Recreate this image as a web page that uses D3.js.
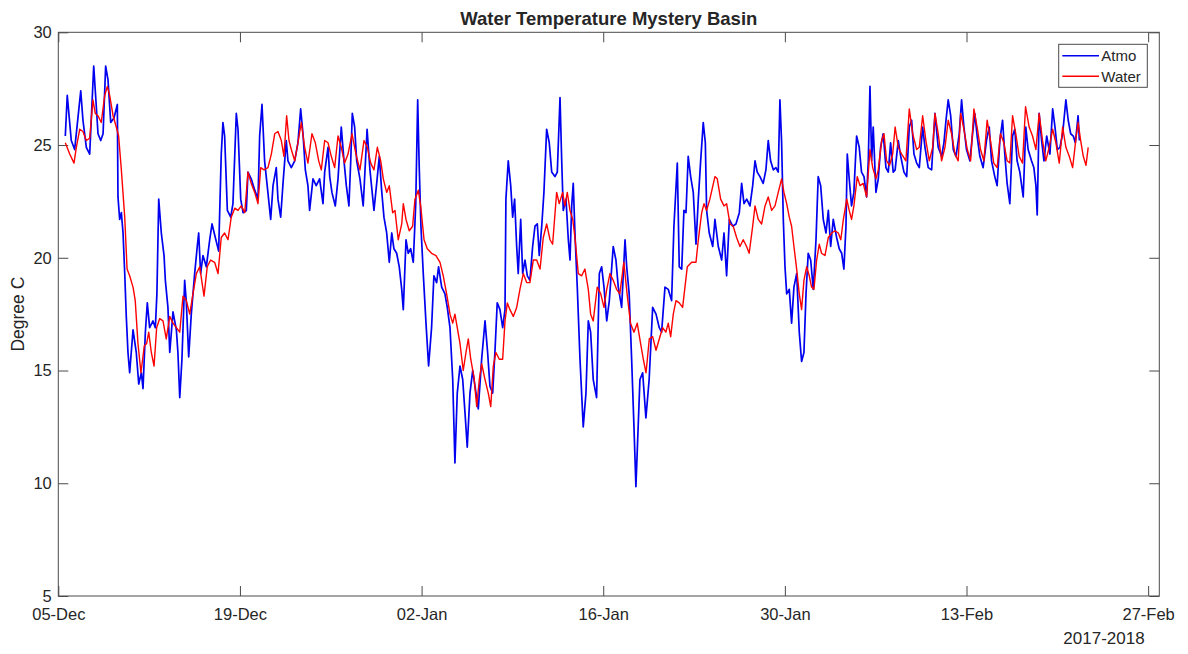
<!DOCTYPE html>
<html>
<head>
<meta charset="utf-8">
<script src="https://cdn.jsdelivr.net/npm/d3@7"></script>
<style>
	body { margin: 0; background: #fff; }
	text { font-family: "Liberation Sans", Arial, Helvetica, sans-serif; fill: #262626; }
</style>
</head>
<body>
<svg id="svg" width="1188" height="654"></svg>
<script>
// day offsets from 05-Dec-2017, temperature in degree C
const atmo = [
	[0.54,25.4],[0.69,27.2],[1.0,25.2],[1.26,24.8],[1.73,27.4],[1.9,26.1],[2.16,24.9],[2.42,24.6],
	[2.73,28.5],[2.93,26.7],[3.06,25.5],[3.27,25.2],[3.45,25.5],[3.65,28.5],[3.83,27.9],[4.04,26.0],
	[4.29,26.2],[4.55,26.8],[4.6,22.7],[4.73,21.7],[4.86,22.0],[4.99,21.1],[5.12,19.3],[5.24,17.4],
	[5.37,15.8],[5.5,14.9],[5.76,16.8],[6.01,15.8],[6.2,14.4],[6.4,14.9],[6.53,14.2],[6.71,16.7],
	[6.86,18.0],[7.04,16.9],[7.3,17.2],[7.48,16.9],[7.6,18.4],[7.74,22.6],[7.94,21.1],[8.15,20.1],
	[8.25,19.0],[8.45,17.8],[8.59,15.8],[8.84,17.6],[9.1,16.8],[9.22,15.8],[9.36,13.8],[9.53,15.5],
	[9.74,19.0],[9.87,18.0],[10.05,15.6],[10.25,17.5],[10.51,19.3],[10.71,20.5],[10.82,21.1],[10.97,19.3],
	[11.15,20.1],[11.41,19.6],[11.67,20.8],[11.85,21.5],[12.1,20.9],[12.36,20.3],[12.56,24.6],[12.69,26.0],
	[12.82,25.4],[13.03,22.1],[13.29,21.8],[13.46,22.4],[13.72,26.4],[13.85,25.7],[14.06,22.6],[14.24,22.0],
	[14.49,22.1],[14.62,23.8],[14.87,23.5],[15.14,23.0],[15.39,22.6],[15.52,25.4],[15.7,26.8],[15.9,24.3],
	[16.1,23.2],[16.37,21.7],[16.55,23.2],[16.8,24.0],[16.93,22.6],[17.14,21.8],[17.32,23.3],[17.57,25.2],
	[17.7,24.3],[17.96,24.0],[18.22,24.3],[18.47,25.1],[18.68,26.6],[18.86,25.5],[19.04,23.9],[19.24,23.2],
	[19.37,22.1],[19.63,23.5],[19.88,23.2],[20.14,23.5],[20.4,22.4],[20.53,23.8],[20.79,24.9],[20.92,23.6],
	[21.09,22.9],[21.35,22.3],[21.56,23.5],[21.81,25.8],[22.02,24.3],[22.2,23.2],[22.4,22.3],[22.54,24.3],
	[22.66,26.4],[22.84,25.8],[23.0,24.3],[23.25,23.5],[23.5,22.3],[23.8,25.7],[24.02,23.9],[24.33,22.1],
	[24.54,23.3],[24.74,24.5],[24.92,23.0],[25.1,21.8],[25.31,21.1],[25.51,19.8],[25.7,21.1],[25.87,20.4],
	[26.08,20.2],[26.28,19.6],[26.47,18.6],[26.59,17.7],[26.8,20.8],[26.97,20.2],[27.16,20.4],[27.36,19.8],
	[27.55,22.4],[27.7,27.0],[27.82,24.0],[27.95,21.4],[28.13,19.3],[28.34,17.1],[28.54,15.2],[28.77,16.9],
	[28.95,19.2],[29.16,18.9],[29.31,19.6],[29.55,18.7],[29.8,18.4],[29.98,17.8],[30.19,16.9],[30.4,14.6],
	[30.57,10.9],[30.75,14.0],[30.96,15.2],[31.17,14.6],[31.35,13.1],[31.52,11.6],[31.73,14.0],[31.94,15.0],
	[32.12,14.3],[32.37,13.3],[32.63,15.5],[32.89,17.2],[33.09,15.8],[33.27,14.3],[33.48,14.0],[33.66,15.9],
	[33.83,18.0],[34.04,17.7],[34.25,16.9],[34.43,17.7],[34.5,22.6],[34.68,24.3],[34.87,23.2],[35.02,21.8],
	[35.17,22.6],[35.33,20.5],[35.45,19.3],[35.64,21.7],[35.79,19.3],[35.97,19.9],[36.15,19.2],[36.35,19.0],
	[36.56,20.5],[36.74,21.4],[36.92,21.5],[37.07,20.1],[37.26,21.4],[37.43,22.9],[37.64,25.7],[37.84,25.1],
	[38.03,23.8],[38.28,23.6],[38.46,23.8],[38.67,27.1],[38.8,24.3],[38.92,22.1],[39.13,22.6],[39.31,20.8],
	[39.44,19.9],[39.57,22.3],[39.69,23.3],[39.82,21.1],[40.0,18.7],[40.21,15.5],[40.46,12.5],[40.67,14.0],
	[40.85,17.2],[41.03,16.7],[41.23,14.6],[41.49,13.8],[41.7,19.3],[41.88,19.6],[42.06,18.7],[42.27,17.2],
	[42.47,18.1],[42.77,20.5],[42.98,19.9],[43.16,18.7],[43.42,17.8],[43.68,20.8],[43.81,19.6],[44.0,18.4],
	[44.19,15.5],[44.37,12.5],[44.52,9.85],[44.83,14.6],[45.04,14.9],[45.29,12.9],[45.54,14.6],[45.81,17.8],
	[46.07,17.5],[46.32,16.9],[46.5,16.7],[46.76,18.7],[47.01,18.6],[47.27,18.1],[47.45,21.4],[47.71,24.2],
	[47.86,19.6],[48.05,19.5],[48.22,22.1],[48.38,22.0],[48.55,24.5],[48.74,23.6],[48.94,22.9],[49.15,20.6],
	[49.33,22.6],[49.51,24.3],[49.71,26.0],[49.87,25.1],[49.97,22.1],[50.17,21.1],[50.44,20.5],[50.61,21.7],
	[50.87,20.5],[51.13,19.9],[51.31,21.1],[51.51,19.2],[51.72,21.7],[51.98,21.4],[52.23,21.5],[52.49,22.0],
	[52.67,23.3],[52.85,22.4],[53.06,22.6],[53.31,22.3],[53.52,23.2],[53.7,24.3],[53.87,23.8],[54.08,23.6],
	[54.33,23.3],[54.54,23.9],[54.72,25.2],[54.9,24.3],[55.11,23.9],[55.31,24.0],[55.49,23.8],[55.62,27.0],
	[55.75,25.1],[55.88,21.7],[56.01,19.6],[56.14,18.4],[56.34,18.6],[56.52,17.1],[56.7,18.7],[56.91,19.3],
	[57.11,16.7],[57.29,15.4],[57.47,15.8],[57.63,18.4],[57.8,20.2],[57.99,19.9],[58.19,18.6],[58.4,20.8],
	[58.57,23.6],[58.76,23.2],[58.96,21.7],[59.17,21.1],[59.35,22.1],[59.53,20.5],[59.73,21.7],[59.99,20.9],
	[60.19,20.4],[60.38,20.2],[60.55,19.5],[60.71,21.4],[60.81,24.6],[60.96,23.5],[61.14,22.3],[61.32,22.9],
	[61.53,25.4],[61.73,24.9],[61.91,23.8],[62.1,23.6],[62.3,22.7],[62.43,24.3],[62.56,27.6],[62.69,24.3],
	[62.81,25.8],[63.02,22.9],[63.2,23.5],[63.38,24.9],[63.58,25.5],[63.79,24.0],[63.97,23.8],[64.15,25.1],
	[64.35,23.8],[64.5,23.9],[64.74,25.2],[64.93,24.5],[65.18,23.8],[65.39,23.6],[65.59,25.8],[65.77,26.1],
	[65.95,24.6],[66.16,24.2],[66.36,24.0],[66.62,25.8],[66.8,24.9],[67.05,24.0],[67.31,23.9],[67.57,26.4],
	[67.82,24.9],[68.08,24.5],[68.26,25.1],[68.42,26.1],[68.59,27.0],[68.78,26.3],[68.98,24.8],[69.19,24.5],
	[69.44,25.5],[69.62,27.0],[69.8,25.8],[70.0,24.8],[70.26,24.3],[70.47,25.5],[70.64,26.4],[70.82,25.4],
	[71.03,24.5],[71.28,24.0],[71.54,25.2],[71.75,25.8],[71.93,24.3],[72.18,23.6],[72.36,23.2],[72.57,25.2],
	[72.78,26.1],[72.95,24.6],[73.13,23.3],[73.34,22.4],[73.55,25.4],[73.72,25.7],[73.9,24.3],[74.11,23.8],
	[74.37,22.7],[74.57,25.8],[74.75,24.8],[75.01,24.3],[75.19,24.0],[75.35,23.2],[75.45,21.9],[75.6,26.4],
	[75.79,25.2],[75.97,24.3],[76.18,25.4],[76.43,24.6],[76.64,26.6],[76.82,25.8],[77.0,24.8],[77.2,24.9],
	[77.41,25.5],[77.66,27.0],[77.84,26.1],[78.03,25.5],[78.23,25.4],[78.39,25.1],[78.6,26.3],[78.7,25.2]
]

const water = [
	[0.54,25.1],[0.88,24.6],[1.21,24.2],[1.39,24.9],[1.65,25.7],[1.9,25.6],[2.16,25.2],[2.42,25.3],
	[2.67,27.0],[2.85,26.4],[3.06,26.3],[3.31,26.0],[3.58,27.2],[3.78,27.6],[3.96,27.2],[4.22,26.3],
	[4.47,25.8],[4.65,25.4],[4.86,23.9],[5.12,21.8],[5.3,19.5],[5.5,19.2],[5.76,18.7],[5.93,18.1],
	[6.14,16.2],[6.37,14.9],[6.63,16.1],[6.81,16.2],[6.97,16.7],[7.17,15.8],[7.38,15.2],[7.58,16.9],
	[7.81,17.3],[8.07,17.2],[8.32,16.4],[8.59,17.4],[8.84,17.1],[9.1,16.9],[9.36,16.7],[9.61,18.3],
	[9.87,18.1],[10.13,17.5],[10.38,18.4],[10.64,19.3],[10.9,19.6],[11.23,18.3],[11.48,19.6],[11.74,19.9],
	[12.05,19.8],[12.31,19.3],[12.56,20.9],[12.82,21.1],[13.08,20.8],[13.33,21.8],[13.6,22.2],[13.85,22.1],
	[14.1,22.3],[14.37,22.0],[14.62,23.8],[14.87,23.3],[15.14,22.9],[15.39,22.4],[15.6,24.0],[15.85,23.9],
	[16.16,24.0],[16.42,24.6],[16.68,25.5],[16.93,25.6],[17.19,25.2],[17.39,24.5],[17.6,26.3],[17.78,25.2],
	[17.96,24.8],[18.22,24.3],[18.47,25.1],[18.73,26.0],[18.99,24.9],[19.24,24.2],[19.55,25.5],[19.81,25.1],
	[20.07,24.3],[20.27,23.9],[20.53,25.2],[20.79,25.1],[21.04,24.5],[21.3,24.0],[21.56,25.4],[21.81,24.9],
	[22.07,24.2],[22.33,24.6],[22.64,25.5],[22.94,24.6],[23.25,23.9],[23.56,25.2],[23.82,24.9],[24.08,24.2],
	[24.33,23.9],[24.59,24.9],[24.85,24.3],[25.05,23.5],[25.31,22.9],[25.51,23.2],[25.77,22.0],[25.95,22.1],
	[26.2,20.8],[26.47,21.5],[26.59,22.4],[26.8,21.7],[27.05,21.2],[27.31,21.4],[27.49,22.6],[27.75,23.0],
	[27.93,22.3],[28.19,20.8],[28.44,20.4],[28.77,20.2],[29.11,20.1],[29.42,19.8],[29.67,19.2],[29.93,18.4],
	[30.19,17.5],[30.4,17.1],[30.57,17.5],[30.75,16.9],[30.96,16.2],[31.21,15.0],[31.42,15.8],[31.6,16.4],
	[31.79,15.5],[32.04,14.7],[32.25,13.4],[32.45,14.6],[32.63,15.3],[32.89,14.6],[33.14,14.0],[33.33,13.4],
	[33.53,15.2],[33.73,15.8],[33.99,15.5],[34.25,15.5],[34.43,17.2],[34.61,18.0],[34.81,17.7],[35.07,17.4],
	[35.33,17.8],[35.58,18.6],[35.84,19.3],[36.1,18.9],[36.35,18.9],[36.61,19.9],[36.87,19.9],[37.13,19.5],
	[37.38,20.9],[37.64,21.5],[37.9,20.8],[38.1,20.6],[38.41,22.9],[38.61,22.4],[38.87,22.9],[39.05,22.3],
	[39.23,22.9],[39.44,22.1],[39.65,21.7],[39.82,20.9],[40.08,19.3],[40.34,19.2],[40.59,19.5],[40.85,18.6],
	[41.03,17.5],[41.23,17.2],[41.54,18.7],[41.81,18.4],[42.06,17.8],[42.27,18.6],[42.52,19.3],[42.77,19.0],
	[43.03,18.6],[43.28,18.4],[43.59,19.8],[43.84,18.4],[44.1,17.1],[44.37,16.7],[44.62,17.1],[44.85,16.3],
	[45.09,15.5],[45.3,14.9],[45.55,16.4],[45.81,16.5],[46.07,15.9],[46.32,16.4],[46.58,16.9],[46.83,16.7],
	[47.01,17.1],[47.2,16.5],[47.4,17.5],[47.61,18.1],[47.86,18.0],[48.12,17.8],[48.3,18.7],[48.48,19.6],
	[48.82,19.8],[49.15,19.8],[49.33,20.8],[49.59,22.0],[49.77,22.4],[49.97,22.1],[50.22,22.6],[50.61,23.6],
	[50.79,23.5],[51.05,22.6],[51.31,22.3],[51.51,22.4],[51.77,21.5],[52.02,21.4],[52.28,20.9],[52.54,20.5],
	[52.79,20.8],[53.05,20.5],[53.25,20.2],[53.52,21.4],[53.7,22.3],[53.95,21.7],[54.21,21.5],[54.47,22.3],
	[54.72,22.7],[54.98,22.1],[55.24,22.3],[55.49,22.9],[55.75,23.5],[55.93,22.9],[56.14,22.4],[56.34,21.8],
	[56.52,21.4],[56.7,20.5],[56.91,19.5],[57.11,18.4],[57.29,17.7],[57.47,19.0],[57.68,19.6],[57.88,19.2],
	[58.06,18.7],[58.24,18.6],[58.45,19.9],[58.65,20.6],[58.83,20.2],[59.09,20.1],[59.35,20.9],[59.61,21.1],
	[59.86,21.2],[60.12,21.1],[60.31,20.8],[60.51,21.7],[60.77,22.6],[60.96,22.1],[61.14,21.7],[61.32,22.3],
	[61.58,23.6],[61.79,23.2],[62.04,23.3],[62.3,22.7],[62.56,24.8],[62.77,24.0],[63.02,23.5],[63.2,23.9],
	[63.46,25.2],[63.64,25.5],[63.84,24.3],[64.07,24.1],[64.31,24.6],[64.5,25.8],[64.74,24.9],[65.0,24.6],
	[65.33,24.3],[65.59,26.6],[65.85,25.5],[66.16,24.8],[66.36,24.9],[66.62,26.3],[66.87,25.2],[67.13,24.3],
	[67.39,24.9],[67.57,26.4],[67.82,25.5],[68.08,24.3],[68.34,24.9],[68.59,26.1],[68.85,25.5],[69.11,24.6],
	[69.36,24.3],[69.55,26.4],[69.8,25.7],[70.06,24.8],[70.32,24.3],[70.57,26.6],[70.82,25.8],[71.08,24.8],
	[71.34,24.3],[71.59,26.1],[71.85,25.2],[72.1,24.2],[72.36,24.0],[72.62,25.5],[72.88,25.1],[73.13,24.3],
	[73.34,24.2],[73.55,26.3],[73.8,25.5],[74.06,24.5],[74.32,24.2],[74.55,26.7],[74.83,25.8],[75.09,25.4],
	[75.35,24.8],[75.6,26.4],[75.86,25.2],[76.11,24.3],[76.37,24.9],[76.64,25.7],[76.89,25.1],[77.15,24.2],
	[77.41,25.8],[77.66,24.9],[77.92,24.5],[78.18,24.0],[78.42,25.2],[78.6,26.0],[78.8,25.2],[79.0,24.5],
	[79.21,24.1],[79.38,24.9]
]

const xTickDays = [0, 14, 28, 42, 56, 70, 84]
const yTicks = [5, 10, 15, 20, 25, 30]
const seriesNames = ['Atmo', 'Water']
const seriesColors = ['#0000f0', '#ff0000']

const start = Date.UTC(2017, 11, 5)
const dayMs = 864e5
const toDate = d => new Date(start + d * dayMs)

const margin = { top: 32.3, right: 28.7, bottom: 58, left: 58.3 }
const W = 1188, H = 654
const w = W - margin.left - margin.right
const h = H - margin.top - margin.bottom
const axisColor = '#4a4a4a'

const $svg = d3.select('#svg')
const $g = $svg.append('g').attr('transform', `translate(${margin.left},${margin.top})`)

const x = d3.scaleUtc()
	.domain([toDate(0), toDate(84.86)])
	.range([0, w])
const y = d3.scaleLinear()
	.domain([5, 30])
	.range([h, 0])

const fmt = d3.utcFormat('%d-%b')

const styleAxis = $a => {
	$a.select('.domain').remove()
	$a.selectAll('line').attr('stroke', axisColor)
	$a.selectAll('text').attr('fill', '#262626').style('font-size', '16.5px')
		.style('font-family', '"Liberation Sans", Arial, sans-serif')
}

$g.append('g')
	.attr('transform', `translate(0,${h})`)
	.call(d3.axisBottom(x).tickValues(xTickDays.map(toDate)).tickFormat(fmt)
		.tickSizeInner(-10).tickSizeOuter(0).tickPadding(12))
	.call(styleAxis)

$g.append('g')
	.call(d3.axisTop(x).tickValues(xTickDays.map(toDate)).tickFormat('')
		.tickSizeInner(-10).tickSizeOuter(0))
	.call(styleAxis)

$g.append('g')
	.call(d3.axisLeft(y).tickValues(yTicks).tickFormat(d3.format('d'))
		.tickSizeInner(-10).tickSizeOuter(0).tickPadding(6.5))
	.call(styleAxis)

$g.append('g')
	.attr('transform', `translate(${w},0)`)
	.call(d3.axisRight(y).tickValues(yTicks).tickFormat('')
		.tickSizeInner(-10).tickSizeOuter(0))
	.call(styleAxis)

$g.append('rect')
	.attr('width', w).attr('height', h)
	.attr('fill', 'none').attr('stroke', axisColor).attr('stroke-width', 1)

const drawLine = d3.line()
	.x(d => x(toDate(d[0])))
	.y(d => y(d[1]))

const $plot = $g.append('g')
$plot.append('path').datum(atmo)
	.attr('d', drawLine)
	.attr('fill', 'none').attr('stroke', seriesColors[0]).attr('stroke-width', 1.7)
	.attr('stroke-linejoin', 'round')
$plot.append('path').datum(water)
	.attr('d', drawLine)
	.attr('fill', 'none').attr('stroke', seriesColors[1]).attr('stroke-width', 1.4)
	.attr('stroke-linejoin', 'round')

// title and labels
$svg.append('text')
	.attr('x', margin.left + w / 2).attr('y', 25)
	.attr('text-anchor', 'middle')
	.style('font-size', '18.5px').style('font-weight', 'bold')
	.attr('fill', '#000')
	.text('Water Temperature Mystery Basin')

$svg.append('text')
	.attr('transform', `translate(24,${margin.top + h / 2}) rotate(-90)`)
	.attr('text-anchor', 'middle')
	.style('font-size', '17.5px')
	.text('Degree C')

$svg.append('text')
	.attr('x', 1104).attr('y', 644)
	.attr('text-anchor', 'middle')
	.style('font-size', '17px')
	.text('2017-2018')

// legend
const $legend = $svg.append('g').attr('transform', 'translate(1058.7,44.3)')
$legend.append('rect')
	.attr('width', 88.6).attr('height', 43)
	.attr('fill', '#fff').attr('stroke', axisColor).attr('stroke-width', 1)

seriesNames.forEach((name, i) => {
	const ly = 11.4 + i * 20.6
	$legend.append('line')
		.attr('x1', 3.6).attr('x2', 40.3).attr('y1', ly).attr('y2', ly)
		.attr('stroke', seriesColors[i]).attr('stroke-width', 1.4)
	$legend.append('text')
		.attr('x', 42.6).attr('y', ly + 5.5)
		.style('font-size', '15px')
		.text(name)
})
</script>
</body>
</html>
